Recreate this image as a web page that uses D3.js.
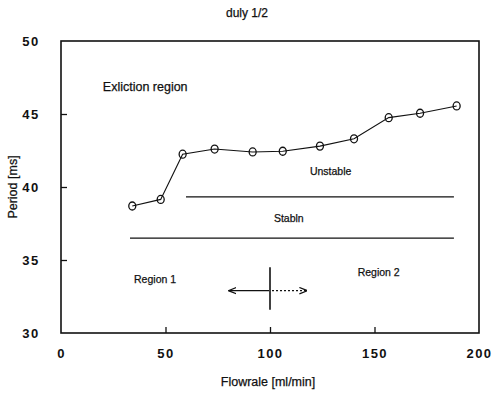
<!DOCTYPE html>
<html>
<head>
<meta charset="utf-8">
<script src="https://cdn.jsdelivr.net/npm/d3@7"></script>
<style>
  html, body { margin: 0; padding: 0; background: #fff; }
  svg { display: block; font-family: "Liberation Sans", Arial, sans-serif; }
</style>
</head>
<body>
<svg id="chart" width="494" height="396"></svg>
<script>
// Measured oscillation period versus flow rate
const flowrate = [34.1, 47.7, 58.2, 73.5, 91.7, 106.1, 123.9, 140.2, 156.8, 171.8, 189.3];
const period   = [38.7, 39.15, 42.25, 42.6, 42.4, 42.45, 42.8, 43.3, 44.75, 45.05, 45.55];

const xTicks = [0, 50, 100, 150, 200];
const yTicks = [30, 35, 40, 45, 50];

// Boundary lines separating the unstable / stable bands: [x0, x1, y]
const boundaries = [
  [59.8, 188, 39.33],
  [33.0, 188, 36.5]
];

const annotations = [
  { text: "Exliction region", x: 20,  y: 46.6, anchor: "start" },
  { text: "Unstable",         x: 129, y: 40.8, anchor: "middle" },
  { text: "Stabln",           x: 109, y: 37.6, anchor: "middle" },
  { text: "Region 1",         x: 45,  y: 33.4, anchor: "middle" },
  { text: "Region 2",         x: 152, y: 33.9, anchor: "middle" }
];

const divider = { x: 100, y0: 31.6, y1: 34.5, yArrow: 32.9, left: 80.5, right: 117.5 };

const svg = d3.select("#chart");
const x = d3.scaleLinear().domain([0, 200]).range([61, 479]);
const y = d3.scaleLinear().domain([30, 50]).range([333, 41]);

// Frame
svg.append("rect")
  .attr("x", x(0)).attr("y", y(50))
  .attr("width", x(200) - x(0)).attr("height", y(30) - y(50))
  .attr("fill", "none").attr("stroke", "#111").attr("stroke-width", 1.6);

// Axes with inward ticks
const xAxis = svg.append("g").attr("transform", `translate(0,${y(30)})`)
  .call(d3.axisBottom(x).tickValues(xTicks).tickSizeInner(-6).tickSizeOuter(0).tickPadding(16));
const yAxis = svg.append("g").attr("transform", `translate(${x(0)},0)`)
  .call(d3.axisLeft(y).tickValues(yTicks).tickSizeInner(-6).tickSizeOuter(0).tickPadding(20));

[xAxis, yAxis].forEach(a => {
  a.select(".domain").remove();
  a.selectAll(".tick line").attr("stroke", "#111").attr("stroke-width", 1.3);
  a.selectAll(".tick text")
    .attr("fill", "#111")
    .style("font-size", "13px").style("font-weight", "bold").style("letter-spacing", "1.5px");
});
xAxis.selectAll(".tick").filter(d => d === 0 || d === 200).select("line").remove();
yAxis.selectAll(".tick").filter(d => d === 30 || d === 50).select("line").remove();
yAxis.selectAll(".tick text").attr("text-anchor", "middle").attr("x", -30).attr("dy", "0.35em");

// Title and axis labels
const labelStyle = sel => sel.attr("fill", "#111").attr("stroke", "#111").attr("stroke-width", 0.25);
svg.append("text").attr("x", 247).attr("y", 17).attr("text-anchor", "middle")
  .style("font-size", "12px").call(labelStyle).text("duly 1/2");
svg.append("text").attr("x", 268).attr("y", 386).attr("text-anchor", "middle")
  .style("font-size", "12.5px").call(labelStyle).text("Flowrale [ml/min]");
svg.append("text").attr("transform", `translate(17,${y(40)}) rotate(-90)`)
  .attr("text-anchor", "middle").style("font-size", "12.5px").call(labelStyle)
  .text("Period [ms]");

// Band boundaries
svg.selectAll("line.boundary").data(boundaries).join("line")
  .attr("class", "boundary")
  .attr("x1", d => x(d[0])).attr("x2", d => x(d[1]))
  .attr("y1", d => y(d[2])).attr("y2", d => y(d[2]))
  .attr("stroke", "#111").attr("stroke-width", 1.2);

// Region labels
svg.selectAll("text.note").data(annotations).join("text")
  .attr("class", "note")
  .attr("x", d => x(d.x)).attr("y", d => y(d.y))
  .attr("text-anchor", d => d.anchor)
  .style("font-size", d => d.anchor === "start" ? "12.5px" : "10.5px")
  .call(labelStyle)
  .text(d => d.text);

// Region divider with arrows
svg.append("defs").append("marker")
  .attr("id", "head").attr("viewBox", "0 0 10 10").attr("refX", 9).attr("refY", 5)
  .attr("markerWidth", 8).attr("markerHeight", 8).attr("orient", "auto-start-reverse")
  .attr("markerUnits", "userSpaceOnUse")
  .append("path").attr("d", "M0,1 L10,5 L0,9").attr("fill", "none")
  .attr("stroke", "#111").attr("stroke-width", 1.5);

svg.append("line")
  .attr("x1", x(divider.x)).attr("x2", x(divider.x))
  .attr("y1", y(divider.y0)).attr("y2", y(divider.y1))
  .attr("stroke", "#111").attr("stroke-width", 1.6);
svg.append("line")
  .attr("x1", x(divider.x) - 1).attr("x2", x(divider.left))
  .attr("y1", y(divider.yArrow)).attr("y2", y(divider.yArrow))
  .attr("stroke", "#111").attr("stroke-width", 1.1).attr("marker-end", "url(#head)");
svg.append("line")
  .attr("x1", x(divider.x) + 2).attr("x2", x(divider.right))
  .attr("y1", y(divider.yArrow)).attr("y2", y(divider.yArrow))
  .attr("stroke", "#111").attr("stroke-width", 1.1).attr("stroke-dasharray", "2,2")
  .attr("marker-end", "url(#head)");

// Data line and open circle markers (line runs through the circles)
const pts = flowrate.map((f, i) => [f, period[i]]);
svg.append("path").datum(pts)
  .attr("d", d3.line().x(d => x(d[0])).y(d => y(d[1])))
  .attr("fill", "none").attr("stroke", "#111").attr("stroke-width", 1.1);
svg.selectAll("ellipse.pt").data(pts).join("ellipse")
  .attr("class", "pt")
  .attr("cx", d => x(d[0])).attr("cy", d => y(d[1])).attr("rx", 3.5).attr("ry", 4)
  .attr("fill", "none").attr("stroke", "#111").attr("stroke-width", 1.3);
</script>
</body>
</html>
